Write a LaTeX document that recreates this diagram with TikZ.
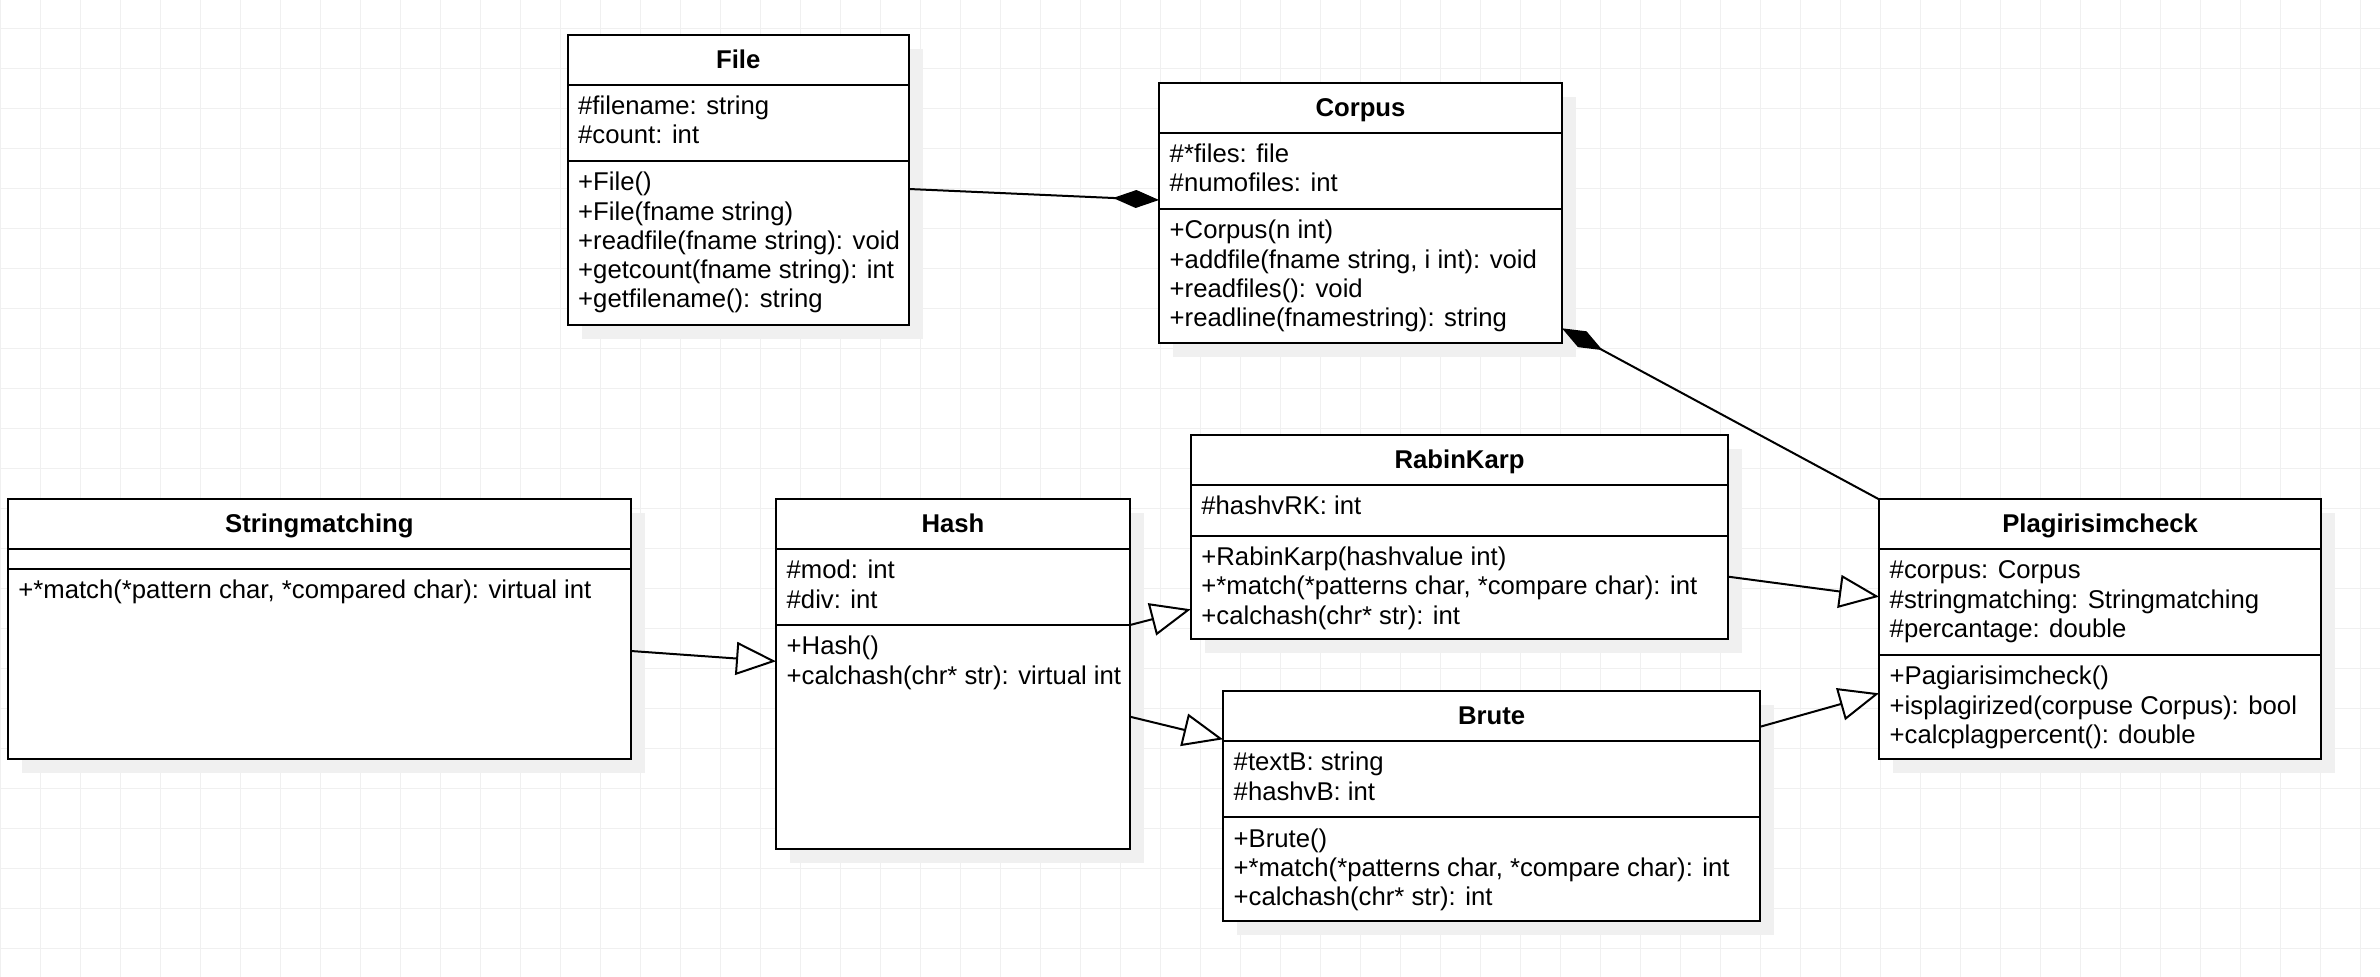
\documentclass[tikz,border=0pt]{standalone}
\usepackage{fontspec}
\setmainfont{Liberation Sans}
\usetikzlibrary{arrows.meta,calc}

\tikzset{
  classbox/.style={draw=black, line width=2pt, fill=white, inner sep=0pt, outer sep=0pt, anchor=north west},
  sepline/.style={draw=black, line width=2pt},
  shadowbox/.style={fill=gray!12},
  itemtext/.style={anchor=base west, inner sep=0pt, font=\fontsize{25.7}{29.3}\selectfont},
  titletext/.style={anchor=base, inner sep=0pt, font=\fontsize{25.7}{29.3}\selectfont\bfseries},
  compos/.style={draw=black, line width=2pt, -{Diamond[length=46pt,width=18pt,fill=black]}},
  inherit/.style={draw=black, line width=2pt, -{Triangle[length=40pt,width=33pt,fill=white]}},
  gridline/.style={draw=gray!12, line width=1pt},
}

\newcommand{\umlclass}[8]{%
  \fill[shadowbox] (#2+14,#3+14) rectangle ++(#4,#5);
  \node[classbox, minimum width=#4pt, minimum height=#5pt] (#1) at (#2,#3) {};
  \draw[sepline] ($(#1.north west)+(0,#6)$) -- ($(#1.north east)+(0,#6)$);
  \draw[sepline] ($(#1.north west)+(0,#7)$) -- ($(#1.north east)+(0,#7)$);
  \node[titletext] (#1-title) at ($(#1.north)+(0,33.5)$) {#8};
}
\newcommand{\umlrow}[4]{\node[itemtext] (#1) at ($(#2.north west)+(10.5,#3)$) {#4};}

\begin{document}
\begin{tikzpicture}[x=1pt,y=-1pt]
\fill[white] (0,0) rectangle (2380,977);
\useasboundingbox (0,0) rectangle (2380,977);
\foreach \gx in {0,40,...,2380} {\draw[gridline] (\gx,0) -- (\gx,977);}
\foreach \gy in {28.3,68.3,...,977} {\draw[gridline] (0,\gy) -- (2380,\gy);}

% File
\umlclass{file}{567.5}{35}{341.5}{290}{49.5}{126}{File}
\umlrow{file-a1}{file}{79.2}{\#filename: string}
\umlrow{file-a2}{file}{108.5}{\#count: int}
\umlrow{file-m1}{file}{155.7}{+File()}
\umlrow{file-m2}{file}{185}{+File(fname string)}
\umlrow{file-m3}{file}{214.3}{+readfile(fname string): void}
\umlrow{file-m4}{file}{243.6}{+getcount(fname string): int}
\umlrow{file-m5}{file}{272.9}{+getfilename(): string}

% Corpus
\umlclass{corpus}{1159}{82.7}{403}{260}{50}{126.3}{Corpus}
\umlrow{corpus-a1}{corpus}{79.7}{\#*files: file}
\umlrow{corpus-a2}{corpus}{109}{\#numofiles: int}
\umlrow{corpus-m1}{corpus}{156}{+Corpus(n int)}
\umlrow{corpus-m2}{corpus}{185.3}{+addfile(fname string, i int): void}
\umlrow{corpus-m3}{corpus}{214.6}{+readfiles(): void}
\umlrow{corpus-m4}{corpus}{243.9}{+readline(fnamestring): string}

% Stringmatching
\umlclass{sm}{7.7}{499}{623.3}{260.3}{50}{70}{Stringmatching}
\umlrow{sm-m1}{sm}{99.7}{+*match(*pattern char, *compared char): virtual int}

% Hash
\umlclass{hash}{776}{499}{354}{350.3}{50}{126}{Hash}
\umlrow{hash-a1}{hash}{79.7}{\#mod: int}
\umlrow{hash-a2}{hash}{109}{\#div: int}
\umlrow{hash-m1}{hash}{155.7}{+Hash()}
\umlrow{hash-m2}{hash}{185}{+calchash(chr* str): virtual int}

% RabinKarp
\umlclass{rk}{1190.7}{435}{537.7}{204.3}{50}{100.7}{RabinKarp}
\umlrow{rk-a1}{rk}{79.7}{\#hashvRK: int}
\umlrow{rk-m1}{rk}{130.4}{+RabinKarp(hashvalue int)}
\umlrow{rk-m2}{rk}{159.7}{+*match(*patterns char, *compare char): int}
\umlrow{rk-m3}{rk}{189}{+calchash(chr* str): int}

% Brute
\umlclass{brute}{1223}{691}{537.3}{230}{50}{126.3}{Brute}
\umlrow{brute-a1}{brute}{79.7}{\#textB: string}
\umlrow{brute-a2}{brute}{109}{\#hashvB: int}
\umlrow{brute-m1}{brute}{156}{+Brute()}
\umlrow{brute-m2}{brute}{185.3}{+*match(*patterns char, *compare char): int}
\umlrow{brute-m3}{brute}{214.6}{+calchash(chr* str): int}

% Plagirisimcheck
\umlclass{plag}{1879}{499.3}{442.3}{260}{49.7}{155.7}{Plagirisimcheck}
\umlrow{plag-a1}{plag}{79.4}{\#corpus: Corpus}
\umlrow{plag-a2}{plag}{108.7}{\#stringmatching: Stringmatching}
\umlrow{plag-a3}{plag}{138}{\#percantage: double}
\umlrow{plag-m1}{plag}{185.4}{+Pagiarisimcheck()}
\umlrow{plag-m2}{plag}{214.7}{+isplagirized(corpuse Corpus): bool}
\umlrow{plag-m3}{plag}{244}{+calcplagpercent(): double}

% connectors
\draw[compos] ($(file.north east)+(0,154)$) -- ($(corpus.north west)+(0,117.3)$);
\draw[compos] (plag.north west) -- ($(corpus.north east)+(0,245.6)$);
\draw[inherit] ($(sm.north east)+(0,152)$) -- ($(hash.north west)+(0,162.3)$);
\draw[inherit] ($(hash.north east)+(0,126)$) -- ($(rk.north west)+(0,174.3)$);
\draw[inherit] ($(hash.north east)+(0,217.7)$) -- ($(brute.north west)+(0,48.3)$);
\draw[inherit] ($(rk.north east)+(0,141.7)$) -- ($(plag.north west)+(0,97.4)$);
\draw[inherit] ($(brute.north east)+(0,35.7)$) -- ($(plag.north west)+(0,194)$);
\end{tikzpicture}
\end{document}
